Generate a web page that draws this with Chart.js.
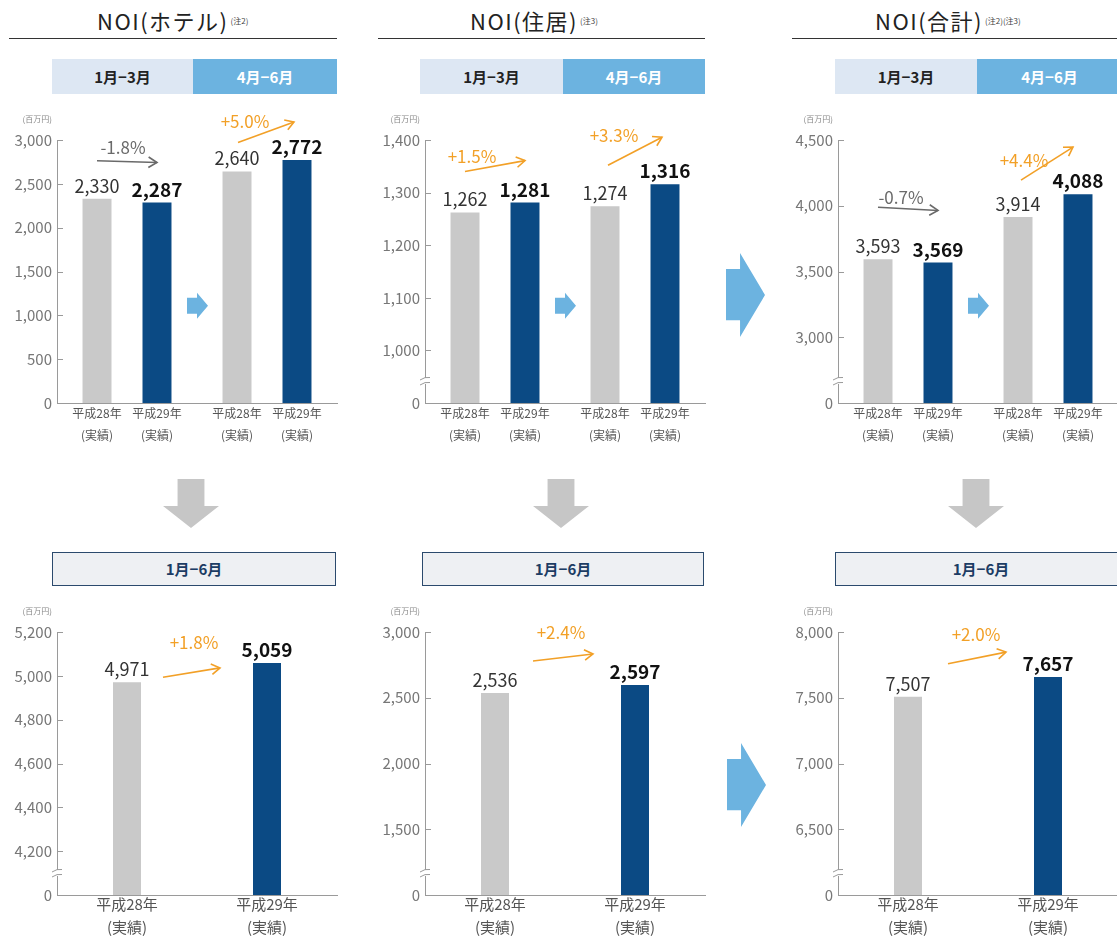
<!DOCTYPE html>
<html lang="ja">
<head>
<meta charset="utf-8">
<script src="https://cdn.jsdelivr.net/npm/chart.js@4.4.1/dist/chart.umd.min.js"></script>
<style>
  html, body { margin: 0; padding: 0; background: #fff; overflow: hidden; }
  body { width: 1117px; height: 937px; position: relative; font-family: 'Noto Sans CJK JP', 'Noto Sans', sans-serif; }
  .abs { position: absolute; }
  .title { font-size: 22px; line-height: 22px; letter-spacing: 1.5px; color: #222; white-space: nowrap; }
  .title .note { font-size: 8px; letter-spacing: 0; vertical-align: top; color: #444; margin-left: 2px; position: relative; top: 1px; }
  .rule { height: 0; border-top: 1.5px solid #333; top: 38px; }
  .box { top: 59px; height: 35px; line-height: 35px; text-align: center; font-weight: bold; font-size: 15px; }
  .light { background: #dde7f3; color: #222; }
  .blue { background: #6cb3e0; color: #fff; }
  .half { top: 552px; height: 32px; line-height: 32px; border: 1.5px solid #2b4a6d; background: #eef0f3;
          color: #1c3c64; text-align: center; font-weight: bold; font-size: 15px; box-sizing: content-box; }
  .down { width: 56px; height: 49px; top: 479px; background: #c6c6c6;
          clip-path: polygon(26% 0, 74% 0, 74% 55%, 100% 55%, 50% 100%, 0 55%, 26% 55%); }
  .big { width: 39px; height: 84px; background: #6cb3e0;
         clip-path: polygon(0 19%, 36% 19%, 36% 0, 100% 50%, 36% 100%, 36% 80%, 0 80%); }
  canvas { position: absolute; }
</style>
</head>
<body>

<div class="abs title" style="left:97px; top:9px">NOI(ホテル)<span class="note">(注2)</span></div>
<div class="abs title" style="left:470px; top:9px">NOI(住居)<span class="note">(注3)</span></div>
<div class="abs title" style="left:875px; top:9px">NOI(合計)<span class="note">(注2)(注3)</span></div>
<div class="abs rule" style="left:9px; width:328px"></div>
<div class="abs rule" style="left:378px; width:327px"></div>
<div class="abs rule" style="left:792px; width:330px"></div>

<div class="abs box light" style="left:52px; width:141px">1月−3月</div>
<div class="abs box blue" style="left:193px; width:144px">4月−6月</div>
<div class="abs box light" style="left:420px; width:143px">1月−3月</div>
<div class="abs box blue" style="left:563px; width:142px">4月−6月</div>
<div class="abs box light" style="left:835px; width:142px">1月−3月</div>
<div class="abs box blue" style="left:977px; width:145px">4月−6月</div>

<div class="abs big" style="left:726px; top:253px"></div>
<div class="abs big" style="left:727px; top:743px"></div>

<div class="abs down" style="left:163px"></div>
<div class="abs down" style="left:533px"></div>
<div class="abs down" style="left:948px"></div>

<div class="abs half" style="left:52px; width:282px">1月−6月</div>
<div class="abs half" style="left:422px; width:280px">1月−6月</div>
<div class="abs half" style="left:835px; width:290px">1月−6月</div>

<canvas id="hotelQ" width="345" height="345" style="left:0px; top:100px"></canvas>
<canvas id="resQ" width="345" height="345" style="left:368px; top:100px"></canvas>
<canvas id="totalQ" width="345" height="345" style="left:781px; top:100px"></canvas>
<canvas id="hotelH" width="345" height="345" style="left:0px; top:592px"></canvas>
<canvas id="resH" width="345" height="345" style="left:368px; top:592px"></canvas>
<canvas id="totalH" width="345" height="345" style="left:781px; top:592px"></canvas>

<script>
// data (百万円)
const years = ['平成28年', '平成29年'];
const periods = ['1月−3月', '4月−6月'];

const hotelQ28 = [2330, 2640];
const hotelQ29 = [2287, 2772];
const resQ28 = [1262, 1274];
const resQ29 = [1281, 1316];
const totalQ28 = [3593, 3914];
const totalQ29 = [3569, 4088];

const hotelH1 = [4971, 5059];
const resH1 = [2536, 2597];
const totalH1 = [7507, 7657];

const hotelQGrowth = ['-1.8%', '+5.0%'];
const resQGrowth = ['+1.5%', '+3.3%'];
const totalQGrowth = ['-0.7%', '+4.4%'];
const hotelHGrowth = ['+1.8%'];
const resHGrowth = ['+2.4%'];
const totalHGrowth = ['+2.0%'];

// y ticks; first entry is the "0" shown below the axis break
const hotelQTicks = [0, 500, 1000, 1500, 2000, 2500, 3000];
const resQTicks = [0, 1000, 1100, 1200, 1300, 1400];
const totalQTicks = [0, 3000, 3500, 4000, 4500];
const hotelHTicks = [0, 4200, 4400, 4600, 4800, 5000, 5200];
const resHTicks = [0, 1500, 2000, 2500, 3000];
const totalHTicks = [0, 6500, 7000, 7500, 8000];

const FONT = "'Noto Sans CJK JP', 'Noto Sans', sans-serif";
const GRAY = '#c9c9c9';
const NAVY = '#0b4a84';
const ORANGE = '#f2a027';
const MINUS = '#6a6a6a';

Chart.defaults.font.family = FONT;

function yScale(ticks) {
  const step = ticks[2] - ticks[1];
  const lo = ticks[1] - step;
  const hi = ticks[ticks.length - 1];
  return {
    min: lo,
    max: hi,
    afterBuildTicks: s => { s.ticks = [lo].concat(ticks.slice(1)).map(v => ({ value: v })); },
    afterFit: s => { s.width = 57; },
    border: { color: '#9a9a9a', width: 1 },
    grid: { display: false, drawTicks: false, tickLength: 0 },
    ticks: {
      color: '#777',
      font: { size: 15 },
      padding: 5,
      callback: v => (v === lo ? '0' : v.toLocaleString('en-US'))
    }
  };
}

function arrowLine(ctx, x1, y1, x2, y2, color) {
  const ang = Math.atan2(y2 - y1, x2 - x1);
  ctx.strokeStyle = color;
  ctx.lineWidth = 1.6;
  ctx.beginPath();
  ctx.moveTo(x1, y1);
  ctx.lineTo(x2, y2);
  ctx.stroke();
  ctx.beginPath();
  ctx.moveTo(x2 - 10 * Math.cos(ang - 0.55), y2 - 10 * Math.sin(ang - 0.55));
  ctx.lineTo(x2, y2);
  ctx.lineTo(x2 - 10 * Math.cos(ang + 0.55), y2 - 10 * Math.sin(ang + 0.55));
  ctx.stroke();
}

const decoPlugin = {
  id: 'deco',
  afterDraw(chart, args, opts) {
    const ctx = chart.ctx;
    const a = chart.chartArea;
    const y = chart.scales.y;
    ctx.save();

    // short ticks pointing into the plot
    ctx.strokeStyle = '#9a9a9a';
    ctx.lineWidth = 1;
    y.ticks.forEach((t, i) => {
      if (i === 0) return;
      const py = Math.round(y.getPixelForValue(t.value)) + 0.5;
      ctx.beginPath();
      ctx.moveTo(a.left, py);
      ctx.lineTo(a.left + 6, py);
      ctx.stroke();
    });

    // unit
    ctx.fillStyle = '#888';
    ctx.font = '8px ' + FONT;
    ctx.textAlign = 'right';
    ctx.textBaseline = 'middle';
    ctx.fillText('(百万円)', a.left - 5, a.top - 21);

    // axis break mark
    if (opts.ticks[0] !== y.min) {
      const yb = a.bottom - 22;
      ctx.fillStyle = '#fff';
      ctx.fillRect(a.left - 5, yb - 3, 10, 6);
      ctx.strokeStyle = '#9a9a9a';
      [-2.5, 2.5].forEach(k => {
        ctx.beginPath();
        ctx.moveTo(a.left - 5, yb + k + 1.5);
        ctx.quadraticCurveTo(a.left, yb + k - 2, a.left + 5, yb + k - 1);
        ctx.stroke();
      });
    }

    // value labels
    ctx.textAlign = 'center';
    ctx.textBaseline = 'middle';
    chart.data.datasets.forEach((ds, di) => {
      chart.getDatasetMeta(di).data.forEach((bar, i) => {
        const strong = bar.options.backgroundColor === NAVY;
        ctx.font = (strong ? '600 19px ' : '400 18px ') + FONT;
        ctx.fillStyle = strong ? '#111' : '#333';
        ctx.fillText(ds.data[i].toLocaleString('en-US'), bar.x, bar.y - 13);
      });
    });

    // year labels under each bar
    const lab = opts.labels;
    ctx.font = lab.size + 'px ' + FONT;
    ctx.fillStyle = '#555';
    chart.data.datasets.forEach((ds, di) => {
      chart.getDatasetMeta(di).data.forEach((bar, i) => {
        const text = lab.perDataset ? ds.label : chart.data.labels[i];
        ctx.fillText(text, bar.x, a.bottom + lab.y1);
        ctx.fillText('(実績)', bar.x, a.bottom + lab.y2);
      });
    });

    // small arrow between the two periods (quarter charts)
    if (lab.perDataset) {
      const m0 = chart.getDatasetMeta(1).data[0];
      const m1 = chart.getDatasetMeta(0).data[1];
      const cx = (m0.x + m1.x) / 2;
      const cy = a.top + 0.63 * (a.bottom - a.top);
      ctx.fillStyle = '#6cb3e0';
      ctx.beginPath();
      ctx.moveTo(cx - 10, cy - 8);
      ctx.lineTo(cx, cy - 8);
      ctx.lineTo(cx, cy - 13);
      ctx.lineTo(cx + 11, cy);
      ctx.lineTo(cx, cy + 13);
      ctx.lineTo(cx, cy + 8);
      ctx.lineTo(cx - 10, cy + 8);
      ctx.closePath();
      ctx.fill();
    }

    // growth arrows
    opts.notes.forEach(n => {
      const A = chart.getDatasetMeta(n.from[0]).data[n.from[1]];
      const B = chart.getDatasetMeta(n.to[0]).data[n.to[1]];
      const color = n.text.startsWith('-') ? MINUS : ORANGE;
      const x1 = A.x + n.s[0], y1 = A.y + n.s[1];
      const x2 = B.x + n.e[0], y2 = B.y + n.e[1];
      arrowLine(ctx, x1, y1, x2, y2, color);
      ctx.font = '17px ' + FONT;
      ctx.fillStyle = color;
      ctx.fillText(n.text, x1 + n.t[0], y1 + n.t[1]);
    });

    ctx.restore();
  }
};

function baseOptions(ticks, notes, labels) {
  return {
    responsive: false,
    animation: false,
    layout: { padding: { top: 40, right: 8, left: 0, bottom: 0 } },
    plugins: {
      legend: { display: false },
      tooltip: { enabled: false },
      deco: { ticks: ticks, notes: notes, labels: labels }
    },
    scales: {
      x: {
        afterFit: s => { s.height = 42; },
        border: { color: '#9a9a9a' },
        grid: { display: false },
        ticks: { display: false }
      },
      y: yScale(ticks)
    }
  };
}

function quarterChart(id, v28, v29, ticks, growth, geo) {
  const notes = growth.map((g, i) => Object.assign({ from: [0, i], to: [1, i], text: g }, geo[i]));
  new Chart(document.getElementById(id), {
    type: 'bar',
    data: {
      labels: periods,
      datasets: [
        { label: years[0], data: v28, backgroundColor: GRAY },
        { label: years[1], data: v29, backgroundColor: NAVY }
      ]
    },
    options: Object.assign(baseOptions(ticks, notes, { perDataset: true, size: 12, y1: 10, y2: 32 }),
      { categoryPercentage: 0.857, barPercentage: 0.483 }),
    plugins: [decoPlugin]
  });
}

function halfChart(id, values, ticks, growth, geo) {
  const notes = [Object.assign({ from: [0, 0], to: [0, 1], text: growth[0] }, geo)];
  new Chart(document.getElementById(id), {
    type: 'bar',
    data: {
      labels: years,
      datasets: [{ label: '1月−6月', data: values, backgroundColor: [GRAY, NAVY] }]
    },
    options: Object.assign(baseOptions(ticks, notes, { perDataset: false, size: 15, y1: 9, y2: 32 }),
      { categoryPercentage: 1, barPercentage: 0.2 }),
    plugins: [decoPlugin]
  });
}

quarterChart('hotelQ', hotelQ28, hotelQ29, hotelQTicks, hotelQGrowth, [
  { s: [0, -38], e: [0, -40], t: [26, -13] },
  { s: [1, -29], e: [-3, -38], t: [7, -21] }
]);
quarterChart('resQ', resQ28, resQ29, resQTicks, resQGrowth, [
  { s: [0, -41], e: [0, -42], t: [7, -15] },
  { s: [3, -41], e: [-3, -47], t: [6, -30] }
]);
quarterChart('totalQ', totalQ28, totalQ29, totalQTicks, totalQGrowth, [
  { s: [0, -52], e: [0, -52], t: [23, -10] },
  { s: [3, -37], e: [-5, -47], t: [3, -20] }
]);

halfChart('hotelH', hotelH1, hotelHTicks, hotelHGrowth, { s: [36, -5], e: [-47, 5], t: [31, -35] });
halfChart('resH', resH1, resHTicks, resHGrowth, { s: [38, -32], e: [-42, -31], t: [28, -28] });
halfChart('totalH', totalH1, totalHTicks, totalHGrowth, { s: [40, -33], e: [-42, -25], t: [28, -29] });
</script>
</body>
</html>
